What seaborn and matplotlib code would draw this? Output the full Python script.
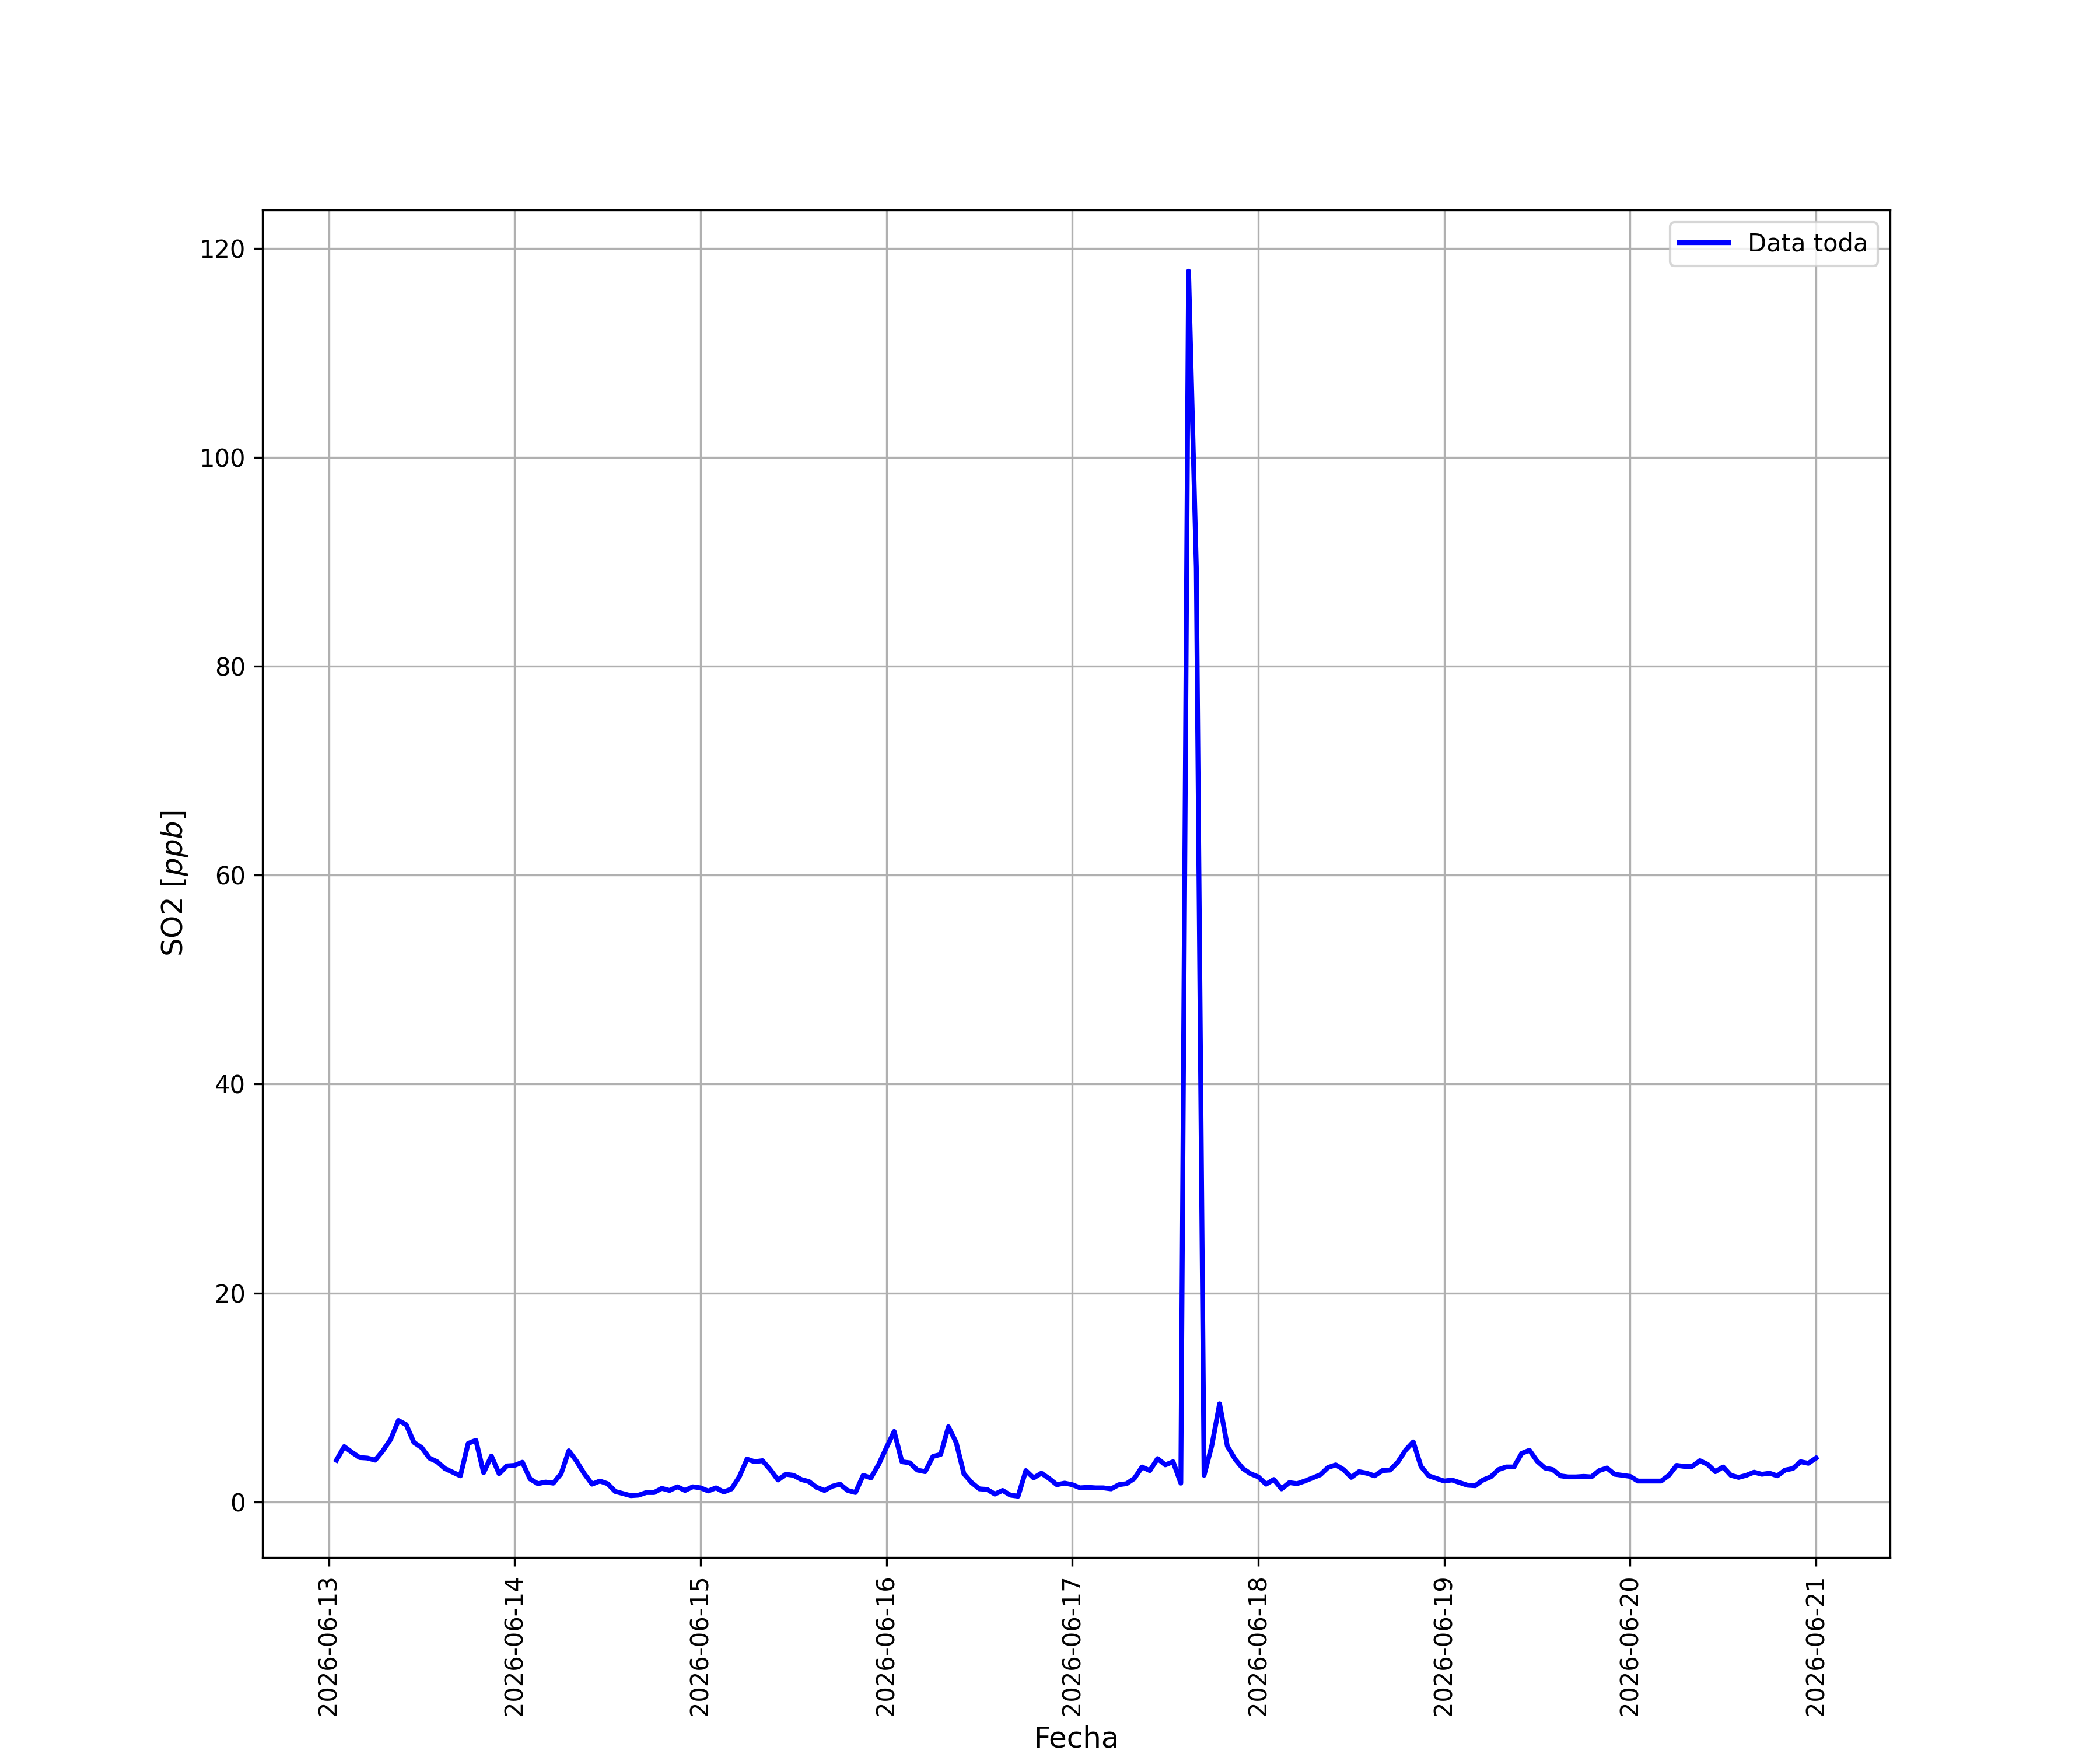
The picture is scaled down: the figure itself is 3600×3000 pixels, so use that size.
import pandas as pd
import matplotlib
matplotlib.use("Agg")
import matplotlib.pyplot as plt
import matplotlib.dates as mdates
import seaborn as sns

# hourly SO2 values, 2026-06-13 01:00 -> 2026-06-21 00:00
so2_dia13 = [4.0, 5.3, 4.75, 4.25, 4.2, 4.0, 4.9, 6.0, 7.8, 7.4, 5.7, 5.2,
             4.2, 3.85, 3.2, 2.85, 2.5, 5.6, 5.9, 2.8, 4.4, 2.7, 3.45, 3.5]
so2_dia14 = [3.8, 2.2, 1.75, 1.9, 1.8, 2.7, 4.9, 3.9, 2.7, 1.7, 2.0, 1.75,
             1.0, 0.8, 0.6, 0.65, 0.9, 0.9, 1.3, 1.1, 1.45, 1.1, 1.45, 1.35]
so2_dia15 = [1.05, 1.35, 0.95, 1.25, 2.4, 4.1, 3.85, 3.95, 3.1, 2.1, 2.65, 2.55,
             2.15, 1.95, 1.4, 1.1, 1.5, 1.7, 1.1, 0.9, 2.55, 2.3, 3.6, 5.2]
so2_dia16 = [6.75, 3.85, 3.75, 3.05, 2.9, 4.35, 4.55, 7.2, 5.7, 2.7, 1.85, 1.25,
             1.2, 0.75, 1.1, 0.65, 0.55, 3.0, 2.3, 2.75, 2.25, 1.65, 1.8, 1.65]
so2_dia17 = [1.35, 1.4, 1.35, 1.35, 1.25, 1.65, 1.75, 2.25, 3.35, 3.0, 4.15, 3.55,
             3.85, 1.8, 117.8, 89.4, 2.55, 5.4, 9.4, 5.35, 4.1, 3.2, 2.7, 2.4]
so2_dia18 = [1.7, 2.15, 1.25, 1.85, 1.75, 2.0, 2.3, 2.6, 3.3, 3.55, 3.1, 2.35,
             2.9, 2.75, 2.5, 3.0, 3.05, 3.8, 4.95, 5.75, 3.4, 2.5, 2.25, 2.0]
so2_dia19 = [2.1, 1.85, 1.6, 1.55, 2.1, 2.4, 3.1, 3.35, 3.35, 4.65, 4.95, 3.9,
             3.25, 3.1, 2.5, 2.4, 2.4, 2.45, 2.4, 3.0, 3.25, 2.65, 2.55, 2.45]
so2_dia20 = [2.0, 2.0, 2.0, 2.0, 2.55, 3.5, 3.4, 3.4, 3.95, 3.6, 2.9, 3.35,
             2.55, 2.35, 2.55, 2.85, 2.65, 2.75, 2.5, 3.05, 3.2, 3.85, 3.7, 4.2]

so2 = (so2_dia13 + so2_dia14 + so2_dia15 + so2_dia16 +
       so2_dia17 + so2_dia18 + so2_dia19 + so2_dia20)
fechas = pd.date_range("2026-06-13 01:00", periods=len(so2), freq="h")

df = pd.DataFrame({"Fecha": fechas, "SO2": so2})

plt.figure(figsize=(12, 10), dpi=300)
ax = sns.lineplot(data=df, x="Fecha", y="SO2", color="blue", linewidth=2, label="Data toda")
ax.grid(True, color="#b0b0b0", linewidth=0.8)
ax.xaxis.set_major_locator(mdates.DayLocator())
ax.xaxis.set_major_formatter(mdates.DateFormatter("%Y-%m-%d"))
plt.xticks(rotation=90, fontsize=10)
plt.yticks(fontsize=10)
ax.set_xlabel("Fecha", fontsize=12)
ax.set_ylabel("SO2 [$ppb$]", fontsize=12)
ax.legend(loc="upper right", fontsize=10)

plt.savefig("out.png", dpi=300)
